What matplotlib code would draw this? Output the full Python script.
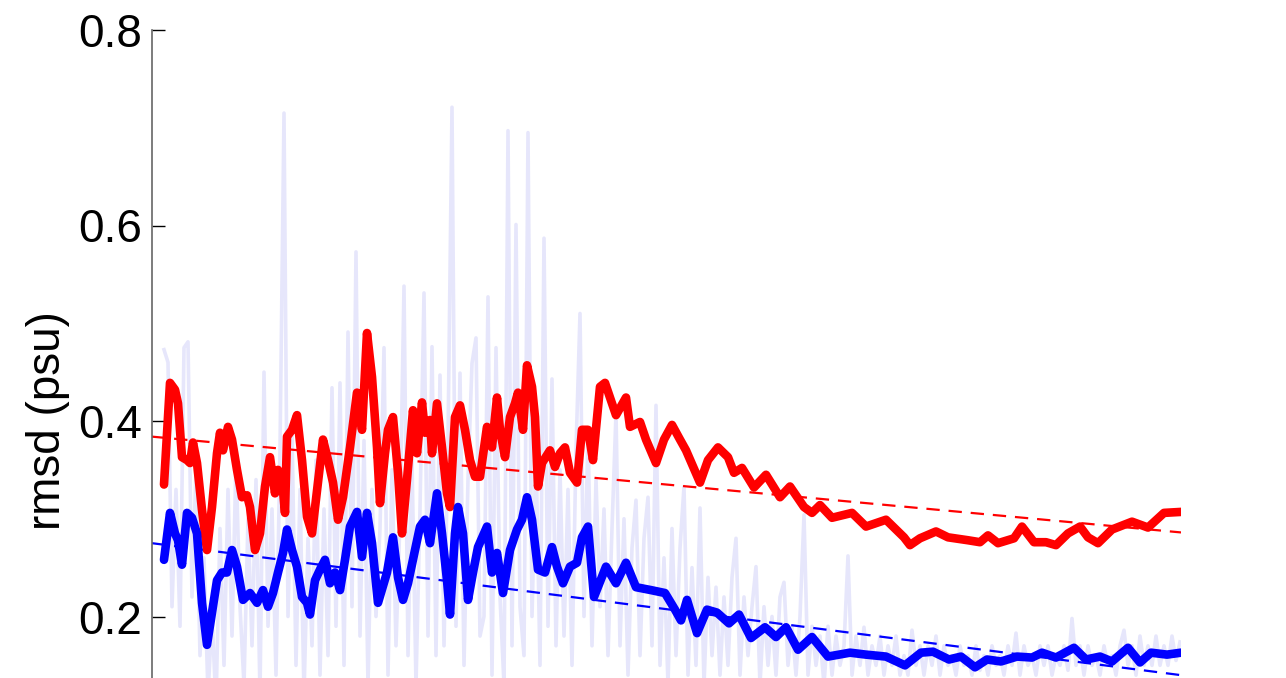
import matplotlib
matplotlib.use("Agg")
import matplotlib.pyplot as plt
import numpy as np

plt.rcParams['font.family'] = ['Liberation Sans', 'DejaVu Sans']

# running rmsd, red series (time in days)
red_t = [12, 18, 23, 26, 30, 35, 38, 41, 45, 50,
         55, 60, 65, 68, 71, 76, 80, 85, 90, 95,
         98, 103, 108, 113, 118, 123, 126, 130, 133, 135,
         140, 145, 150, 155, 160, 165, 171, 176, 181, 186,
         191, 198, 205, 210, 215, 220, 225, 228, 233, 236,
         241, 246, 250, 255, 261, 265, 270, 273, 278, 280,
         285, 290, 295, 298, 303, 308, 313, 318, 323, 328,
         335, 340, 345, 348, 353, 358, 363, 366, 371, 375,
         380, 383, 386, 390, 398, 403, 408, 413, 418, 425,
         430, 436, 441, 448, 453, 464, 474, 478, 488, 494,
         504, 512, 520, 528, 534, 548, 556, 566, 576, 582,
         590, 602, 614, 628, 638, 652, 660, 668, 680, 700,
         714, 734, 752, 758, 768, 784, 796, 816, 828, 836,
         846, 862, 870, 882, 894, 904, 916, 928, 936, 946,
         960, 980, 996, 1012, 1029]
red_v = [0.335, 0.439, 0.432, 0.418, 0.363, 0.360, 0.357, 0.378, 0.357, 0.309,
         0.268, 0.312, 0.367, 0.388, 0.370, 0.394, 0.381, 0.350, 0.322, 0.324,
         0.312, 0.268, 0.285, 0.333, 0.363, 0.326, 0.350, 0.340, 0.306, 0.384,
         0.391, 0.406, 0.360, 0.302, 0.285, 0.329, 0.381, 0.360, 0.337, 0.299,
         0.322, 0.373, 0.429, 0.391, 0.490, 0.445, 0.373, 0.316, 0.367, 0.391,
         0.404, 0.347, 0.285, 0.340, 0.411, 0.367, 0.419, 0.388, 0.401, 0.367,
         0.418, 0.373, 0.326, 0.312, 0.404, 0.416, 0.391, 0.360, 0.343, 0.343,
         0.394, 0.373, 0.424, 0.391, 0.363, 0.404, 0.418, 0.429, 0.391, 0.457,
         0.435, 0.404, 0.333, 0.357, 0.370, 0.353, 0.367, 0.373, 0.347, 0.337,
         0.391, 0.391, 0.360, 0.435, 0.439, 0.406, 0.424, 0.394, 0.399, 0.381,
         0.357, 0.381, 0.396, 0.381, 0.370, 0.337, 0.360, 0.373, 0.363, 0.347,
         0.352, 0.332, 0.345, 0.322, 0.333, 0.312, 0.306, 0.314, 0.301, 0.306,
         0.292, 0.299, 0.281, 0.273, 0.280, 0.287, 0.281, 0.278, 0.276, 0.283,
         0.275, 0.280, 0.292, 0.276, 0.276, 0.273, 0.285, 0.292, 0.281, 0.275,
         0.289, 0.297, 0.291, 0.306, 0.307]

# running rmsd, blue series
blue_t = [12, 18, 23, 26, 30, 35, 40, 45, 50, 55,
          60, 65, 70, 75, 80, 85, 91, 98, 105, 111,
          116, 121, 126, 131, 135, 140, 145, 150, 155, 158,
          163, 168, 173, 178, 183, 188, 193, 198, 205, 210,
          215, 220, 226, 235, 241, 246, 251, 256, 263, 268,
          273, 278, 285, 290, 295, 298, 303, 306, 311, 316,
          321, 326, 335, 340, 345, 351, 358, 365, 370, 375,
          380, 386, 393, 400, 405, 411, 418, 425, 430, 436,
          442, 454, 464, 474, 484, 499, 513, 523, 529, 535,
          545, 555, 565, 577, 587, 599, 613, 624, 634, 646,
          660, 676, 698, 714, 734, 753, 769, 781, 797, 809,
          823, 835, 849, 865, 880, 890, 904, 922, 934, 948,
          960, 976, 988, 999, 1015, 1029]
blue_v = [0.258, 0.306, 0.285, 0.278, 0.253, 0.306, 0.301, 0.285, 0.214, 0.171,
          0.204, 0.237, 0.245, 0.245, 0.268, 0.251, 0.217, 0.224, 0.214, 0.227,
          0.210, 0.224, 0.245, 0.265, 0.289, 0.268, 0.251, 0.220, 0.214, 0.202,
          0.237, 0.248, 0.258, 0.234, 0.245, 0.227, 0.258, 0.292, 0.307, 0.261,
          0.306, 0.275, 0.214, 0.245, 0.281, 0.240, 0.217, 0.234, 0.268, 0.292,
          0.299, 0.275, 0.326, 0.285, 0.237, 0.202, 0.285, 0.312, 0.285, 0.217,
          0.245, 0.271, 0.292, 0.245, 0.265, 0.224, 0.268, 0.289, 0.299, 0.322,
          0.299, 0.248, 0.245, 0.271, 0.251, 0.234, 0.251, 0.255, 0.281, 0.292,
          0.220, 0.251, 0.234, 0.255, 0.230, 0.227, 0.224, 0.207, 0.196, 0.217,
          0.183, 0.207, 0.204, 0.193, 0.202, 0.178, 0.189, 0.179, 0.189, 0.166,
          0.179, 0.159, 0.163, 0.161, 0.159, 0.150, 0.163, 0.164, 0.156, 0.159,
          0.148, 0.156, 0.154, 0.159, 0.158, 0.163, 0.158, 0.168, 0.156, 0.159,
          0.154, 0.168, 0.153, 0.163, 0.161, 0.163]

# raw rmsd behind the blue series, sampled every 4 days
raw_t = np.arange(12, 1030, 4)
raw_v = [0.473, 0.460, 0.21, 0.33, 0.19, 0.475, 0.481, 0.22, 0.35, 0.16,
         0.26, 0.12, 0.20, 0.11, 0.29, 0.15, 0.33, 0.18, 0.36, 0.21,
         0.13, 0.30, 0.17, 0.34, 0.12, 0.450, 0.19, 0.31, 0.14, 0.37,
         0.715, 0.20, 0.39, 0.15, 0.33, 0.12, 0.28, 0.17, 0.36, 0.14,
         0.31, 0.16, 0.434, 0.19, 0.439, 0.15, 0.491, 0.21, 0.573, 0.18,
         0.38, 0.13, 0.33, 0.20, 0.29, 0.475, 0.14, 0.35, 0.17, 0.30,
         0.538, 0.16, 0.36, 0.13, 0.31, 0.531, 0.18, 0.476, 0.16, 0.447,
         0.17, 0.38, 0.721, 0.19, 0.449, 0.15, 0.34, 0.459, 0.485, 0.18,
         0.20, 0.527, 0.14, 0.475, 0.22, 0.13, 0.697, 0.17, 0.601, 0.21,
         0.16, 0.695, 0.20, 0.37, 0.15, 0.587, 0.19, 0.443, 0.17, 0.35,
         0.18, 0.33, 0.15, 0.37, 0.510, 0.20, 0.39, 0.17, 0.34, 0.21,
         0.31, 0.16, 0.29, 0.408, 0.17, 0.30, 0.14, 0.27, 0.319, 0.16,
         0.28, 0.322, 0.17, 0.416, 0.15, 0.26, 0.13, 0.29, 0.16, 0.27,
         0.333, 0.14, 0.25, 0.15, 0.311, 0.13, 0.24, 0.16, 0.23, 0.14,
         0.22, 0.15, 0.24, 0.280, 0.14, 0.22, 0.16, 0.21, 0.251, 0.13,
         0.21, 0.15, 0.20, 0.14, 0.22, 0.235, 0.15, 0.19, 0.14, 0.20,
         0.304, 0.14, 0.19, 0.15, 0.18, 0.13, 0.19, 0.14, 0.18, 0.15,
         0.17, 0.262, 0.14, 0.18, 0.15, 0.189, 0.14, 0.17, 0.15, 0.18,
         0.14, 0.17, 0.15, 0.18, 0.14, 0.16, 0.14, 0.186, 0.15, 0.17,
         0.14, 0.17, 0.15, 0.18, 0.14, 0.17, 0.15, 0.16, 0.14, 0.17,
         0.15, 0.16, 0.14, 0.17, 0.145, 0.16, 0.14, 0.17, 0.15, 0.16,
         0.14, 0.17, 0.15, 0.183, 0.14, 0.17, 0.15, 0.16, 0.14, 0.17,
         0.15, 0.17, 0.14, 0.16, 0.15, 0.17, 0.145, 0.198, 0.15, 0.17,
         0.14, 0.17, 0.15, 0.16, 0.14, 0.17, 0.15, 0.16, 0.14, 0.17,
         0.186, 0.15, 0.17, 0.14, 0.18, 0.15, 0.17, 0.15, 0.18, 0.15,
         0.17, 0.15, 0.18, 0.155, 0.174]

# linear trends (end points)
trend_t = [0, 1029]
red_trend = [0.384, 0.286]
blue_trend = [0.275, 0.140]


fig = plt.figure(figsize=(12.86, 6.78), dpi=100)
# axes runs past the bottom edge, like the cropped original
ax = fig.add_axes([152 / 1286, (678 - 812) / 678, 1029 / 1286, 782 / 678])

ax.plot(raw_t, raw_v, color='#e6e6fb', lw=2.6, zorder=1)
ax.plot(trend_t, red_trend, color='red', lw=1.6, dashes=(6, 4), zorder=2)
ax.plot(trend_t, blue_trend, color='blue', lw=1.6, dashes=(6, 4), zorder=2)
ax.plot(red_t, red_v, color='red', lw=6.2, solid_joinstyle='round',
        solid_capstyle='round', zorder=3)
ax.plot(blue_t, blue_v, color='blue', lw=6.2, solid_joinstyle='round',
        solid_capstyle='round', zorder=3)

ax.set_xlim(0, 1029)
ax.set_ylim(0, 0.8)
ax.set_yticks([0.2, 0.4, 0.6, 0.8])
ax.set_yticklabels(['0.2', '0.4', '0.6', '0.8'])
ax.set_xticks([])
ax.tick_params(axis='y', direction='in', length=9, width=1, labelsize=33, pad=7)

for side in ['top', 'right', 'bottom']:
    ax.spines[side].set_visible(False)
ax.spines['left'].set_color('#666666')
ax.spines['left'].set_linewidth(1.2)

ax.set_ylabel('rmsd (psu)', fontsize=33, labelpad=6)

fig.savefig('out.png', dpi=100)
